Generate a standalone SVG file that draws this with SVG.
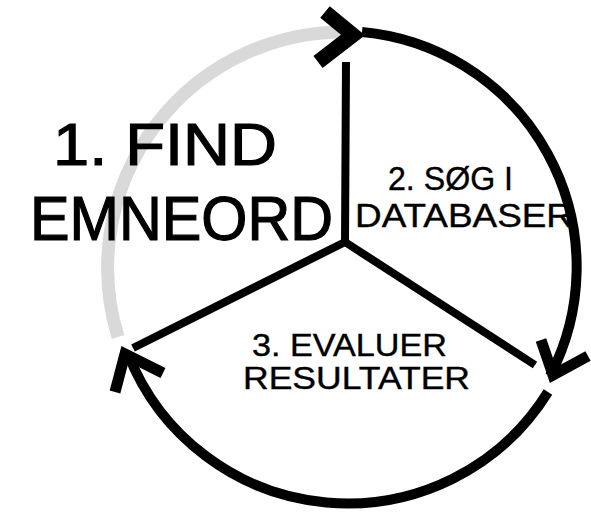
<svg xmlns="http://www.w3.org/2000/svg" width="591" height="516" viewBox="0 0 591 516">
<style>
.arc{fill:none;stroke:#000;stroke-width:10;stroke-linecap:butt}
.gray{stroke:#d9d9d9;stroke-width:13}
.head{fill:none;stroke:#000;stroke-width:11;stroke-linecap:butt;stroke-linejoin:miter}
.spoke{fill:none;stroke:#000;stroke-width:8;stroke-linecap:butt;stroke-linejoin:miter}
.lbl{font-family:"Liberation Sans","DejaVu Sans",sans-serif;fill:#000;stroke:#000;stroke-width:0.4}
.big{stroke-width:1.2}
</style>
<rect width="591" height="516" fill="#fff"/>
<g id="connectors">
<path class="arc gray" d="M118,337 A236,236 0 0 1 350,32"/>
<polyline class="head gray" points="325,12 353,35 318,62" style="stroke-width:15"/>
<path class="arc" d="M362,32 A236,236 0 0 1 550,376"/>
<polyline class="head" points="541,340 553,375 588,356"/>
<path class="arc" d="M548,392 A236,236 0 0 1 128,354"/>
<polyline class="head" points="115,392 125,354 163,373"/>
<polyline class="spoke" points="346,62 345,242 133,348"/>
<line class="spoke" x1="345" y1="242" x2="535" y2="365"/>
</g>
<g id="node1">
<text class="lbl big" x="53" y="165" font-size="60" textLength="224" lengthAdjust="spacingAndGlyphs">1. FIND</text>
<text class="lbl big" x="30" y="240" font-size="63" textLength="303" lengthAdjust="spacingAndGlyphs">EMNEORD</text>
</g>
<g id="node2">
<text class="lbl" x="388" y="190" font-size="34" textLength="125" lengthAdjust="spacingAndGlyphs">2. SØG I</text>
<text class="lbl" x="355" y="227" font-size="34" textLength="218" lengthAdjust="spacingAndGlyphs">DATABASER</text>
</g>
<g id="node3">
<text class="lbl" x="252" y="356" font-size="32" textLength="195" lengthAdjust="spacingAndGlyphs">3. EVALUER</text>
<text class="lbl" x="243" y="389" font-size="32" textLength="227" lengthAdjust="spacingAndGlyphs">RESULTATER</text>
</g>
</svg>
